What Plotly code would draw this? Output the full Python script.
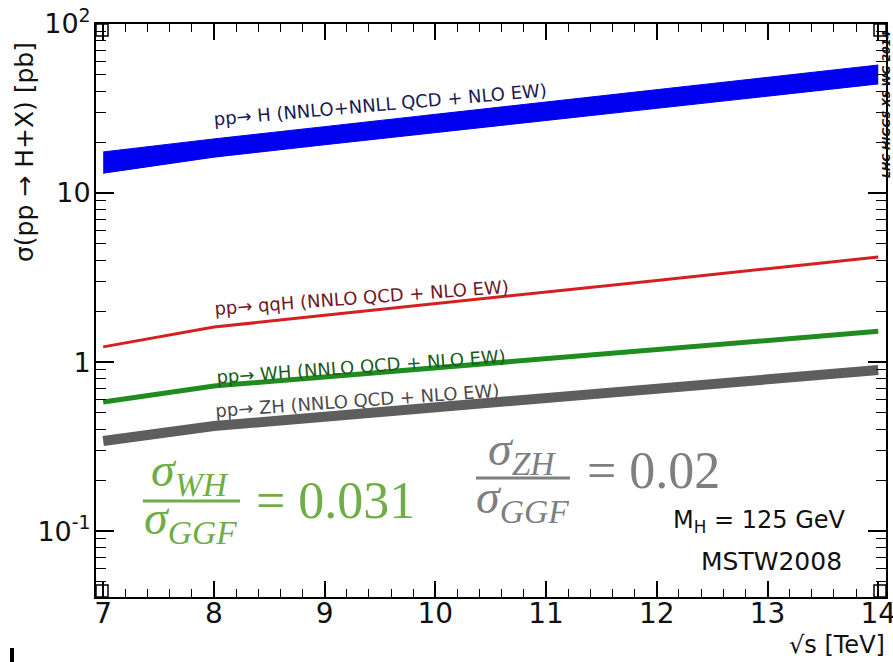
import plotly.graph_objects as go

# ---------------- data ----------------
sqrt_s = [7, 8, 9, 10, 11, 12, 13, 14]
ggf_upper = [17.5, 20.9, 24.7, 29.2, 34.5, 40.9, 48.4, 57.2]
ggf_lower = [13.1, 16.3, 19.3, 22.7, 26.9, 31.7, 37.4, 44.2]
qqh = [1.23, 1.61, 1.89, 2.21, 2.60, 3.04, 3.57, 4.18]
wh = [0.580, 0.721, 0.817, 0.926, 1.049, 1.189, 1.346, 1.52]
zh = [0.341, 0.418, 0.475, 0.540, 0.612, 0.695, 0.790, 0.897]

x_ticks = [7, 8, 9, 10, 11, 12, 13, 14]
y_tickvals = [0.1, 1, 10, 100]
y_ticktext = ["10<sup>-1</sup>", "1", "10", "10<sup>2</sup>"]

labels = {
    "ggf": "pp\u2192 H (NNLO+NNLL QCD + NLO EW)",
    "qqh": "pp\u2192 qqH (NNLO QCD + NLO EW)",
    "wh": "pp\u2192 WH (NNLO QCD + NLO EW)",
    "zh": "pp\u2192 ZH (NNLO QCD + NLO EW)",
}

# ---------------- layout geometry ----------------
SW, SH = 893, 662            # screen size
L, R, T, B = 96, 7, 24, 65   # plot frame in screen pixels
PW, PH = SW - L - R, SH - T - B


def px(x):
    return (x - L) / PW


def py(y):
    return (SH - B - y) / PH


FONT = "DejaVu Sans, Liberation Sans, sans-serif"
SERIF = "Liberation Serif, DejaVu Serif, serif"

fig = go.Figure()

# ggF band
fig.add_trace(go.Scatter(x=sqrt_s, y=ggf_lower, mode="lines",
                         line=dict(color="#0000f0", width=1), showlegend=False,
                         hoverinfo="skip"))
fig.add_trace(go.Scatter(x=sqrt_s, y=ggf_upper, mode="lines", fill="tonexty",
                         fillcolor="#0000f0",
                         line=dict(color="#0000f0", width=1), showlegend=False))
fig.add_trace(go.Scatter(x=sqrt_s, y=qqh, mode="lines",
                         line=dict(color="#d42020", width=3), showlegend=False))
fig.add_trace(go.Scatter(x=sqrt_s, y=wh, mode="lines",
                         line=dict(color="#1e8c1e", width=5), showlegend=False))
fig.add_trace(go.Scatter(x=sqrt_s, y=zh, mode="lines",
                         line=dict(color="#5e5e5e", width=10), showlegend=False))
# invisible trace to anchor mirrored axes (top/right ticks)
fig.add_trace(go.Scatter(x=[sqrt_s[0]], y=[wh[0]], xaxis="x2", yaxis="y2",
                         mode="markers", marker=dict(opacity=0),
                         showlegend=False, hoverinfo="skip"))

minor_y = []
for d in [0.01, 0.1, 1, 10]:
    for k in range(2, 10):
        v = d * k
        if 0.04 <= v <= 100:
            minor_y.append(v)

XR = [6.935, 14.07]
YR = [-1.39, 2.0]
xminor = dict(ticks="inside", ticklen=8, tickwidth=1.2, tickcolor="black",
              dtick=0.2, showgrid=False)
yminor = dict(ticks="inside", ticklen=10, tickwidth=1.2, tickcolor="black",
              tickvals=minor_y, showgrid=False)

fig.update_layout(
    xaxis=dict(range=XR, tickvals=x_ticks, automargin=False,
               ticks="inside", ticklen=16, tickwidth=1.5, tickcolor="black",
               showline=True, linecolor="black", linewidth=2, mirror=True,
               showgrid=False, zeroline=False, minor=xminor,
               ticklabelstandoff=-10, ticklabeloverflow="allow",
               tickfont=dict(family=FONT, size=28, color="#111")),
    yaxis=dict(type="log", range=YR, tickvals=y_tickvals, ticktext=y_ticktext,
               automargin=False,
               ticks="inside", ticklen=18, tickwidth=1.5, tickcolor="black",
               showline=True, linecolor="black", linewidth=2, mirror=True,
               showgrid=False, zeroline=False, minor=yminor,
               ticklabelstandoff=-2, ticklabeloverflow="allow",
               tickfont=dict(family=FONT, size=27, color="#111")),
    xaxis2=dict(range=XR, tickvals=x_ticks, overlaying="x", side="top",
                anchor="y", automargin=False, showticklabels=False,
                ticks="inside", ticklen=16, tickwidth=1.5, tickcolor="black",
                showline=False, showgrid=False, zeroline=False, minor=xminor),
    yaxis2=dict(type="log", range=YR, tickvals=y_tickvals, overlaying="y",
                side="right", anchor="x", automargin=False,
                showticklabels=False,
                ticks="inside", ticklen=18, tickwidth=1.5, tickcolor="black",
                showline=False, showgrid=False, zeroline=False, minor=yminor),
)


def note(x, y, text, size, color, family=FONT, angle=0, xanchor="center"):
    return dict(x=px(x), y=py(y), xref="paper", yref="paper", text=text,
                showarrow=False, textangle=angle, xanchor=xanchor,
                yanchor="middle", font=dict(family=family, size=size,
                                            color=color))


ann = []
# curve labels
for key, cx, cy, ang, col in [("ggf", 380, 104, -5.0, "#1a1a55"),
                              ("qqh", 361, 297, -4.3, "#6e1a28"),
                              ("wh", 361, 366, -4.2, "#1a5a1a"),
                              ("zh", 357, 400, -4.1, "#4a4a4a")]:
    ann.append(note(cx, cy, labels[key], 18, col, angle=ang))

# axis titles
ann.append(note(24, 152, "\u03c3(pp \u2192 H+X) [pb]", 25, "#111", angle=-90))
ann.append(note(887, 645, "\u221as [TeV]", 24, "#111", xanchor="right"))
# right vertical tag
ann.append(note(887, 105, "<b><i>LHC HIGGS XS WG 2014</i></b>", 11, "#111",
                angle=-90))
# M_H and PDF
ann.append(note(848, 521, "M<sub>H</sub> = 125 GeV", 24, "#111",
                xanchor="right"))
ann.append(note(844, 561, "MSTW2008", 25, "#111", xanchor="right"))

# fractions
GREEN = "#70ad47"
GRAY = "#7f7f7f"
for num, den, rhs, cx, ny, dy, rx, ry, col in [
        ("WH", "GGF", "= 0.031", 190, 473, 521, 254, 500, GREEN),
        ("ZH", "GGF", "= 0.02", 522, 452, 500, 585, 470, GRAY)]:
    ann.append(note(cx, ny, "<i>\u03c3<sub>%s</sub></i>" % num, 48, col,
                    family=SERIF))
    ann.append(note(cx, dy, "<i>\u03c3<sub>%s</sub></i>" % den, 48, col,
                    family=SERIF))
    ann.append(note(rx, ry, rhs, 52, col, family=SERIF, xanchor="left"))

shapes = []
shapes.append(dict(type="line", xref="paper", yref="paper",
                   x0=px(143), x1=px(240), y0=py(501), y1=py(501),
                   line=dict(color=GREEN, width=3)))
shapes.append(dict(type="line", xref="paper", yref="paper",
                   x0=px(476), x1=px(570), y0=py(478), y1=py(478),
                   line=dict(color=GRAY, width=3)))
# corner boxes
for (a, b) in [(96, 24), (874, 24), (96, 585), (874, 585)]:
    shapes.append(dict(type="rect", xref="paper", yref="paper",
                       x0=px(a), x1=px(a + 12), y0=py(b), y1=py(b + 12),
                       line=dict(color="black", width=1.5)))
# small mark bottom-left
shapes.append(dict(type="line", xref="paper", yref="paper",
                   x0=px(12), x1=px(12), y0=py(648), y1=py(662),
                   line=dict(color="black", width=4)))

fig.update_layout(width=SW, height=SH,
                  margin=dict(l=L, r=R, t=T, b=B),
                  plot_bgcolor="white", paper_bgcolor="white",
                  annotations=ann, shapes=shapes, showlegend=False)

# remove the default page margin so the figure fills the window exactly
fig.write_html("out.html", config={"displayModeBar": False},
               post_script="document.body.style.margin='0';"
                           "document.body.style.overflow='hidden';")
